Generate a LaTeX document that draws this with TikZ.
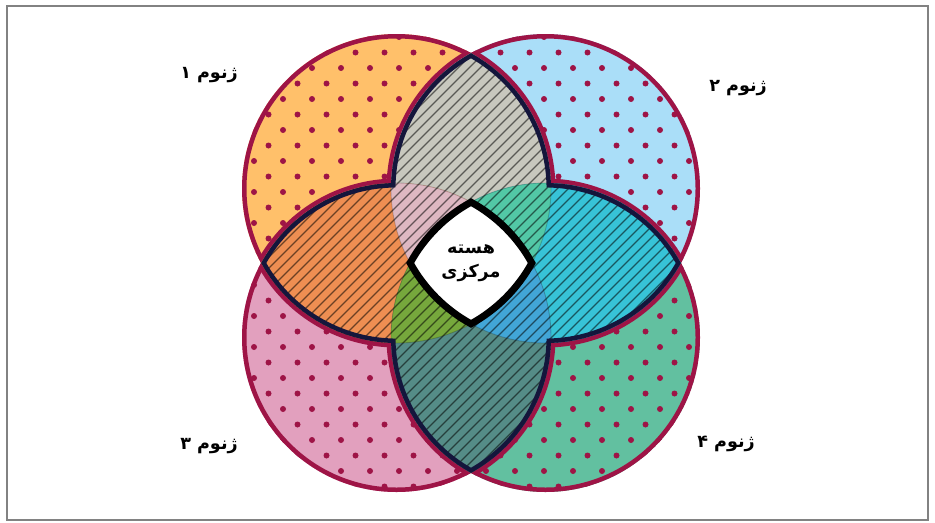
\documentclass[tikz,border=0pt]{standalone}
\usepackage{fontspec}
\newfontfamily\fafont[Script=Arabic]{DejaVu Sans}
\TeXXeTstate=1
\usepackage{xcolor}
\definecolor{FrameGray}{RGB}{130,130,130}
\definecolor{RingRed}{RGB}{158,20,70}
\definecolor{PetalNavy}{RGB}{20,22,60}
\definecolor{FillOrange}{RGB}{255,192,106}
\definecolor{FillBlue}{RGB}{170,222,248}
\definecolor{FillPink}{RGB}{226,160,190}
\definecolor{FillGreen}{RGB}{98,192,160}
\definecolor{LensTop}{RGB}{200,200,190}
\definecolor{LensLeft}{RGB}{238,142,82}
\definecolor{LensRight}{RGB}{55,195,215}
\definecolor{LensBottom}{RGB}{85,140,135}
\definecolor{TripleTL}{RGB}{222,184,194}
\definecolor{TripleTR}{RGB}{82,200,166}
\definecolor{TripleBL}{RGB}{118,168,60}
\definecolor{TripleBR}{RGB}{66,166,215}
\usepackage{tikz}

\newcommand{\genrad}{154.5}
% outline of the region covered by two or more circles
\newcommand{\flowerpath}{(471,468.85)
  arc[start angle=61.17,end angle=2,radius=\genrad]
  arc[start angle=88,end angle=28.83,radius=\genrad]
  arc[start angle=-28.83,end angle=-88,radius=\genrad]
  arc[start angle=-2,end angle=-61.17,radius=\genrad]
  arc[start angle=241.17,end angle=182,radius=\genrad]
  arc[start angle=268,end angle=208.83,radius=\genrad]
  arc[start angle=151.17,end angle=92,radius=\genrad]
  arc[start angle=178,end angle=118.83,radius=\genrad] -- cycle}
% region covered by all four circles
\newcommand{\corepath}{(471,319.85)
  arc[start angle=61.17,end angle=28.83,radius=\genrad]
  arc[start angle=-28.83,end angle=-61.17,radius=\genrad]
  arc[start angle=241.17,end angle=208.83,radius=\genrad]
  arc[start angle=151.17,end angle=118.83,radius=\genrad] -- cycle}
\newcommand{\dotgrid}{%
  \foreach \m in {0,...,30}{
    \foreach \k in {0,...,17}{
      \fill[dotmark] ({225+29*\k+14.5*mod(\m,2)},{485-15.5*\m}) circle (3);
    }
  }}

\tikzset{
  % borders
  frameline/.style={draw=FrameGray, line width=0.04cm},
  ring/.style={draw=RingRed, line width=0.18cm},
  petal/.style={draw=PetalNavy, line width=0.18cm},
  core/.style={draw=black, fill=white, line width=0.14cm},
  % fills
  dotmark/.style={fill=RingRed},
  hatch/.style={draw=black, opacity=0.55, line width=0.7pt},
  seam/.style={draw=black, opacity=0.2, line width=0.5pt},
  % texts
  zlabel/.style={font=\fafont\bfseries\fontsize{10}{12}\selectfont, inner sep=0pt},
  corelabel/.style={font=\fafont\bfseries\fontsize{10}{14}\selectfont, align=center, inner sep=0pt},
}

\begin{document}
\begin{tikzpicture}[x=0.02cm,y=0.02cm]
  \useasboundingbox (0,0) rectangle (935,522);

  %% Frame
  \draw[frameline] (7,2) rectangle (928,516);

  %% Circle centres
  \coordinate (gA) at (396.5,333.5);
  \coordinate (gB) at (545.5,333.5);
  \coordinate (gC) at (396.5,184.5);
  \coordinate (gD) at (545.5,184.5);

  %% Genome circles
  \foreach \ca/\col in {gA/FillOrange,gB/FillBlue,gC/FillPink,gD/FillGreen}{
    \begin{scope}
      \clip (\ca) circle (\genrad);
      \fill[\col] (\ca) circle (\genrad);
      \dotgrid
      \draw[ring] (\ca) circle (\genrad);
      \draw[ring] \flowerpath;
    \end{scope}
  }

  %% Pairwise overlaps
  \foreach \ca/\cb/\col in {gA/gB/LensTop,gA/gC/LensLeft,gB/gD/LensRight,gC/gD/LensBottom}{
    \begin{scope}
      \clip (\ca) circle (\genrad);
      \fill[\col] (\cb) circle (\genrad);
    \end{scope}
  }

  %% Triple overlaps
  \foreach \ca/\cb/\cc/\col in {gA/gB/gC/TripleTL,gA/gB/gD/TripleTR,gA/gC/gD/TripleBL,gB/gC/gD/TripleBR}{
    \begin{scope}
      \clip (\ca) circle (\genrad);
      \clip (\cb) circle (\genrad);
      \fill[\col] (\cc) circle (\genrad);
    \end{scope}
  }

  %% Hatching and petal outline
  \begin{scope}
    \clip \flowerpath;
    \foreach \hx in {-220,-209,...,700}
      \draw[hatch] (\hx,40) -- ++(440,440);
    \foreach \ca in {gA,gB,gC,gD}
      \draw[seam] (\ca) circle (\genrad);
    \draw[petal] \flowerpath;
  \end{scope}

  %% Core
  \draw[core] \corepath;
  \node[corelabel] (core) at (471,259) {\beginR هسته\endR\\\beginR مرکزی\endR};

  %% Labels
  \node[zlabel] (z1) at (209,447) {\beginR ژنوم ۱\endR};
  \node[zlabel] (z2) at (738,434) {\beginR ژنوم ۲\endR};
  \node[zlabel] (z3) at (209,76) {\beginR ژنوم ۳\endR};
  \node[zlabel] (z4) at (726,78) {\beginR ژنوم ۴\endR};
\end{tikzpicture}
\end{document}
